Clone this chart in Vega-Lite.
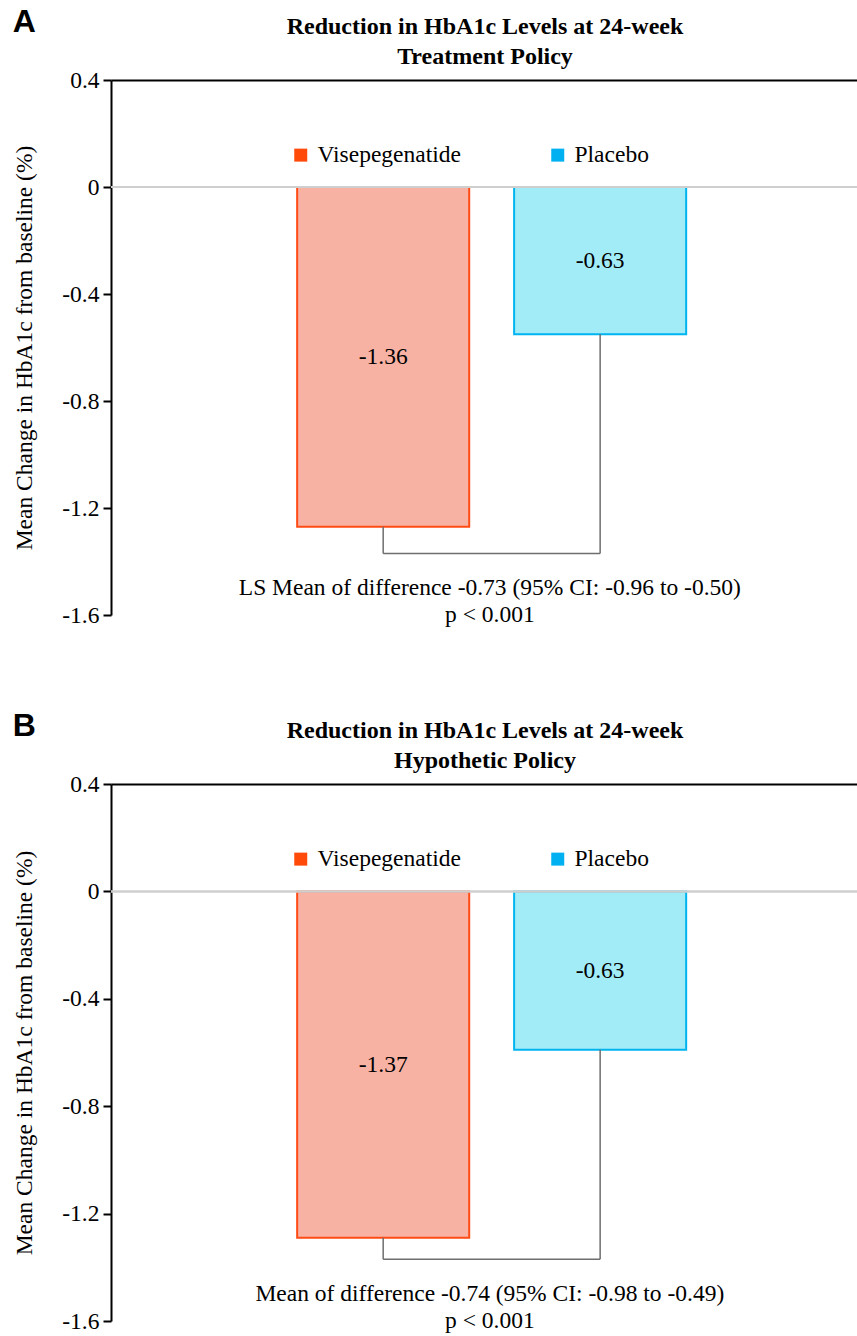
{
  "$schema": "https://vega.github.io/schema/vega-lite/v6.json",
  "padding": {"left": 12, "top": 6, "right": 0, "bottom": 0},
  "background": "white",
  "config": {"view": {"stroke": null}, "font": "Liberation Serif"},
  "datasets": {
    "barsA": [
      {"group": "Visepegenatide", "value": -1.27, "label": "-1.36"},
      {"group": "Placebo", "value": -0.55, "label": "-0.63"}
    ],
    "barsB": [
      {"group": "Visepegenatide", "value": -1.29, "label": "-1.37"},
      {"group": "Placebo", "value": -0.59, "label": "-0.63"}
    ]
  },
  "resolve": {"scale": {"color": "independent", "fill": "independent", "stroke": "independent", "x": "independent", "y": "independent"}, "legend": {"color": "independent"}},
  "spacing": 83,
  "vconcat": [
    {
      "title": {"text": "A", "anchor": "start", "frame": "bounds", "font": "Liberation Sans", "fontSize": 32, "fontWeight": "bold", "color": "black", "offset": -25},
      "width": 747,
      "height": 535,
      "data": {"name": "barsA"},
      "layer": [
        {
          "transform": [{"calculate": "datum.value / 2", "as": "mid"}],
          "mark": {"type": "square", "size": 169, "opacity": 1},
          "encoding": {
            "x": {"field": "group", "type": "nominal"},
            "y": {"field": "mid", "type": "quantitative"},
            "color": {"field": "group", "type": "nominal", "scale": {"domain": ["Visepegenatide", "Placebo"], "range": ["#FF4A0A", "#00B0F0"]},
              "legend": {"orient": "none", "legendX": 178, "legendY": 63, "direction": "horizontal", "title": null, "symbolType": "square", "symbolSize": 169, "symbolStrokeWidth": 0, "labelFont": "Liberation Serif", "labelFontSize": 23.5, "labelColor": "black", "labelOffset": 5, "columnPadding": 85, "padding": 0}}
          }
        },
        {
          "mark": {"type": "bar", "strokeWidth": 2},
          "encoding": {
            "x": {"field": "group", "type": "nominal", "scale": {"domain": ["Visepegenatide", "Placebo"], "paddingInner": 0.207, "paddingOuter": 0.825, "align": 0.52},
              "axis": {"orient": "top", "title": ["Reduction in HbA1c Levels at 24-week", "Treatment Policy"], "labels": false, "ticks": false, "domainColor": "black", "domainWidth": 2, "titleFont": "Liberation Serif", "titleFontSize": 24, "titleFontWeight": "bold", "titleColor": "black", "titlePadding": 12, "titleLineHeight": 30}},
            "y": {"field": "value", "type": "quantitative", "scale": {"domain": [-1.6, 0.4], "nice": false, "zero": false},
              "axis": {"values": [0.4, 0, -0.4, -0.8, -1.2, -1.6], "labelExpr": "datum.value === 0 ? '0' : replace(format(datum.value, '.1f'), '\u2212', '-')", "title": "Mean Change in HbA1c from baseline (%)", "grid": false, "domainColor": "black", "domainWidth": 2, "tickColor": "black", "tickWidth": 2, "tickSize": 8, "labelFont": "Liberation Serif", "labelFontSize": 23.5, "labelColor": "black", "labelPadding": 4, "titleFont": "Liberation Serif", "titleFontSize": 23.5, "titleFontWeight": "normal", "titleColor": "black", "titlePadding": 25}},
            "fill": {"field": "group", "type": "nominal", "scale": {"domain": ["Visepegenatide", "Placebo"], "range": ["#F8B2A4", "#A2ECF8"]}, "legend": null},
            "stroke": {"field": "group", "type": "nominal", "scale": {"domain": ["Visepegenatide", "Placebo"], "range": ["#FF4B14", "#00B4F0"]}, "legend": null}
          }
        },
        {
          "mark": {"type": "rule", "color": "#cfcfcf", "strokeWidth": 2},
          "encoding": {"y": {"datum": 0, "type": "quantitative"}}
        },
        {
          "mark": {"type": "rule", "color": "#6e6e6e", "strokeWidth": 1.5},
          "encoding": {
            "x": {"field": "group", "type": "nominal"},
            "y": {"field": "value", "type": "quantitative"},
            "y2": {"datum": -1.37}
          }
        },
        {
          "data": {"values": [{}]},
          "mark": {"type": "rule", "color": "#6e6e6e", "strokeWidth": 1.5},
          "encoding": {
            "x": {"datum": "Visepegenatide", "type": "nominal"},
            "x2": {"datum": "Placebo"},
            "y": {"datum": -1.37, "type": "quantitative"}
          }
        },
        {
          "transform": [{"calculate": "datum.value / 2", "as": "mid"}],
          "mark": {"type": "text", "font": "Liberation Serif", "fontSize": 23.5, "color": "black", "baseline": "middle"},
          "encoding": {
            "x": {"field": "group", "type": "nominal"},
            "y": {"field": "mid", "type": "quantitative"},
            "text": {"field": "label"}
          }
        },
        {
          "data": {"values": [{}]},
          "mark": {"type": "text", "font": "Liberation Serif", "fontSize": 23.5, "color": "black", "baseline": "middle", "align": "center", "lineHeight": 27},
          "encoding": {
            "x": {"datum": "Visepegenatide", "type": "nominal", "bandPosition": 1.12},
            "y": {"datum": -1.5, "type": "quantitative"},
            "text": {"value": ["LS Mean of difference -0.73 (95% CI: -0.96 to -0.50)", "p < 0.001"]}
          }
        }
      ]
    },
    {
      "title": {"text": "B", "anchor": "start", "frame": "bounds", "font": "Liberation Sans", "fontSize": 32, "fontWeight": "bold", "color": "black", "offset": -25},
      "width": 747,
      "height": 537,
      "data": {"name": "barsB"},
      "layer": [
        {
          "transform": [{"calculate": "datum.value / 2", "as": "mid"}],
          "mark": {"type": "square", "size": 169, "opacity": 1},
          "encoding": {
            "x": {"field": "group", "type": "nominal"},
            "y": {"field": "mid", "type": "quantitative"},
            "color": {"field": "group", "type": "nominal", "scale": {"domain": ["Visepegenatide", "Placebo"], "range": ["#FF4A0A", "#00B0F0"]},
              "legend": {"orient": "none", "legendX": 178, "legendY": 63, "direction": "horizontal", "title": null, "symbolType": "square", "symbolSize": 169, "symbolStrokeWidth": 0, "labelFont": "Liberation Serif", "labelFontSize": 23.5, "labelColor": "black", "labelOffset": 5, "columnPadding": 85, "padding": 0}}
          }
        },
        {
          "mark": {"type": "bar", "strokeWidth": 2},
          "encoding": {
            "x": {"field": "group", "type": "nominal", "scale": {"domain": ["Visepegenatide", "Placebo"], "paddingInner": 0.207, "paddingOuter": 0.825, "align": 0.52},
              "axis": {"orient": "top", "title": ["Reduction in HbA1c Levels at 24-week", "Hypothetic Policy"], "labels": false, "ticks": false, "domainColor": "black", "domainWidth": 2, "titleFont": "Liberation Serif", "titleFontSize": 24, "titleFontWeight": "bold", "titleColor": "black", "titlePadding": 12, "titleLineHeight": 30}},
            "y": {"field": "value", "type": "quantitative", "scale": {"domain": [-1.6, 0.4], "nice": false, "zero": false},
              "axis": {"values": [0.4, 0, -0.4, -0.8, -1.2, -1.6], "labelExpr": "datum.value === 0 ? '0' : replace(format(datum.value, '.1f'), '\u2212', '-')", "title": "Mean Change in HbA1c from baseline (%)", "grid": false, "domainColor": "black", "domainWidth": 2, "tickColor": "black", "tickWidth": 2, "tickSize": 8, "labelFont": "Liberation Serif", "labelFontSize": 23.5, "labelColor": "black", "labelPadding": 4, "titleFont": "Liberation Serif", "titleFontSize": 23.5, "titleFontWeight": "normal", "titleColor": "black", "titlePadding": 25}},
            "fill": {"field": "group", "type": "nominal", "scale": {"domain": ["Visepegenatide", "Placebo"], "range": ["#F8B2A4", "#A2ECF8"]}, "legend": null},
            "stroke": {"field": "group", "type": "nominal", "scale": {"domain": ["Visepegenatide", "Placebo"], "range": ["#FF4B14", "#00B4F0"]}, "legend": null}
          }
        },
        {
          "mark": {"type": "rule", "color": "#cfcfcf", "strokeWidth": 2},
          "encoding": {"y": {"datum": 0, "type": "quantitative"}}
        },
        {
          "mark": {"type": "rule", "color": "#6e6e6e", "strokeWidth": 1.5},
          "encoding": {
            "x": {"field": "group", "type": "nominal"},
            "y": {"field": "value", "type": "quantitative"},
            "y2": {"datum": -1.37}
          }
        },
        {
          "data": {"values": [{}]},
          "mark": {"type": "rule", "color": "#6e6e6e", "strokeWidth": 1.5},
          "encoding": {
            "x": {"datum": "Visepegenatide", "type": "nominal"},
            "x2": {"datum": "Placebo"},
            "y": {"datum": -1.37, "type": "quantitative"}
          }
        },
        {
          "transform": [{"calculate": "datum.value / 2", "as": "mid"}],
          "mark": {"type": "text", "font": "Liberation Serif", "fontSize": 23.5, "color": "black", "baseline": "middle"},
          "encoding": {
            "x": {"field": "group", "type": "nominal"},
            "y": {"field": "mid", "type": "quantitative"},
            "text": {"field": "label"}
          }
        },
        {
          "data": {"values": [{}]},
          "mark": {"type": "text", "font": "Liberation Serif", "fontSize": 23.5, "color": "black", "baseline": "middle", "align": "center", "lineHeight": 27},
          "encoding": {
            "x": {"datum": "Visepegenatide", "type": "nominal", "bandPosition": 1.12},
            "y": {"datum": -1.5, "type": "quantitative"},
            "text": {"value": ["Mean of difference -0.74 (95% CI: -0.98 to -0.49)", "p < 0.001"]}
          }
        }
      ]
    }
  ]
}
